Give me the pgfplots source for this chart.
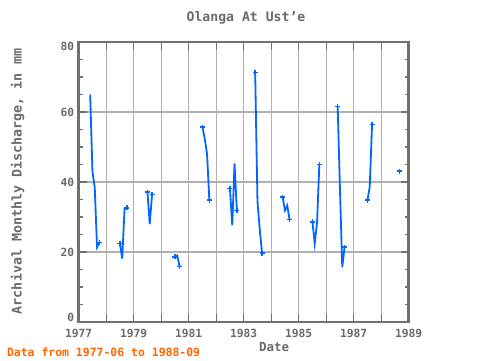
\documentclass[border=0pt]{standalone}
\usepackage{fontspec}
\setmainfont{DejaVu Sans Mono}
\usepackage{pgfplots}
\usepackage{pgfplotstable}
\pgfplotsset{compat=1.18}
\definecolor{framegray}{HTML}{707070}
\definecolor{gridgray}{HTML}{B0B0B0}
\definecolor{txtgray}{HTML}{6A6A6A}
\definecolor{lineblue}{HTML}{0066FF}
\definecolor{noteorange}{HTML}{FF6600}

\pgfplotstableread{
x y
1977.417 65.0
1977.500 43.0
1977.583 38.5
1977.667 21.4
1977.750 22.7
1977.833 nan
1978.500 22.4
1978.583 18.1
1978.667 32.4
1978.750 32.6
1978.833 nan
1979.500 37.1
1979.583 28.0
1979.667 36.4
1979.750 nan
1980.500 18.6
1980.583 19.0
1980.667 15.9
1980.750 nan
1981.500 55.7
1981.583 52.4
1981.667 48.0
1981.750 34.8
1981.833 nan
1982.500 38.1
1982.583 27.6
1982.667 45.3
1982.750 31.9
1982.833 nan
1983.417 71.3
1983.500 34.5
1983.583 26.5
1983.667 19.7
1983.750 nan
1984.417 35.7
1984.500 31.9
1984.583 33.3
1984.667 29.3
1984.750 nan
1985.500 28.6
1985.583 22.4
1985.667 28.5
1985.750 45.0
1985.833 nan
1986.417 61.6
1986.500 38.0
1986.583 15.7
1986.667 21.4
1986.750 nan
1987.500 34.8
1987.583 38.6
1987.667 56.4
1987.750 nan
1988.667 43.1
}\discharge

\pgfplotstableread{
x y
1977.750 22.7
1978.500 22.4
1978.750 32.6
1979.500 37.1
1979.667 36.4
1980.500 18.6
1980.667 15.9
1981.500 55.7
1981.750 34.8
1982.500 38.1
1982.750 31.9
1983.417 71.3
1983.667 19.7
1984.417 35.7
1984.667 29.3
1985.500 28.6
1985.750 45.0
1986.417 61.6
1986.667 21.4
1987.500 34.8
1987.667 56.4
1988.667 43.1
}\ends

\begin{document}
\begin{tikzpicture}[x=1bp,y=1bp]
\path[use as bounding box] (0,0) rectangle (480,360);
\begin{axis}[
  at={(78.7bp,38bp)}, anchor=south west,
  scale only axis, width=330bp, height=280bp,
  xmin=1977, xmax=1989, ymin=0, ymax=80,
  xtick={1977,1978,...,1989},
  xticklabels={1977,,1979,,1981,,1983,,1985,,1987,,1989},
  ytick={0,20,40,60,80},
  yticklabels={\raisebox{4.5bp}[\height][\depth]{0},20,40,60,\raisebox{-4.5bp}[\height][\depth]{80}},
  minor x tick num=2,
  minor y tick num=3,
  tick align=inside,
  major tick length=8bp,
  minor tick length=4bp,
  xtick pos=both, ytick pos=both,
  grid=major,
  major grid style={gridgray, line width=1.2bp},
  axis line style={framegray, line width=2.8bp},
  every tick/.style={framegray, line width=1.3bp},
  every minor tick/.style={framegray, line width=1.3bp},
  /pgf/number format/assume math mode=true,
  /pgf/number format/1000 sep={},
  tick label style={font=\fontsize{11.3}{12}\selectfont\bfseries, text=txtgray},
  xticklabel style={yshift=-4bp},
  yticklabel style={xshift=-1bp},
  unbounded coords=jump,
  clip=false,
]
\addplot[lineblue, line width=1.8bp, mark=none] table[x=x,y=y] {\discharge};
\addplot[only marks, lineblue, mark=+, mark size=2.5bp, mark options={line width=1.6bp}] table[x=x,y=y] {\ends};
\end{axis}
\node[text=txtgray, font=\fontsize{13.2}{14}\selectfont\bfseries] at (246,342) {Olanga At Ust'e};
\node[text=txtgray, font=\fontsize{13.4}{14}\selectfont\bfseries, rotate=90] at (17.5,178.5) {Archival Monthly Discharge, in mm};
\node[text=txtgray, font=\fontsize{12.5}{13}\selectfont\bfseries] at (274,13) {Date};
\node[text=noteorange, font=\fontsize{11.5}{12}\selectfont\bfseries, anchor=west] at (3.5,7.5) {Data from 1977-06 to 1988-09};
\end{tikzpicture}
\end{document}
